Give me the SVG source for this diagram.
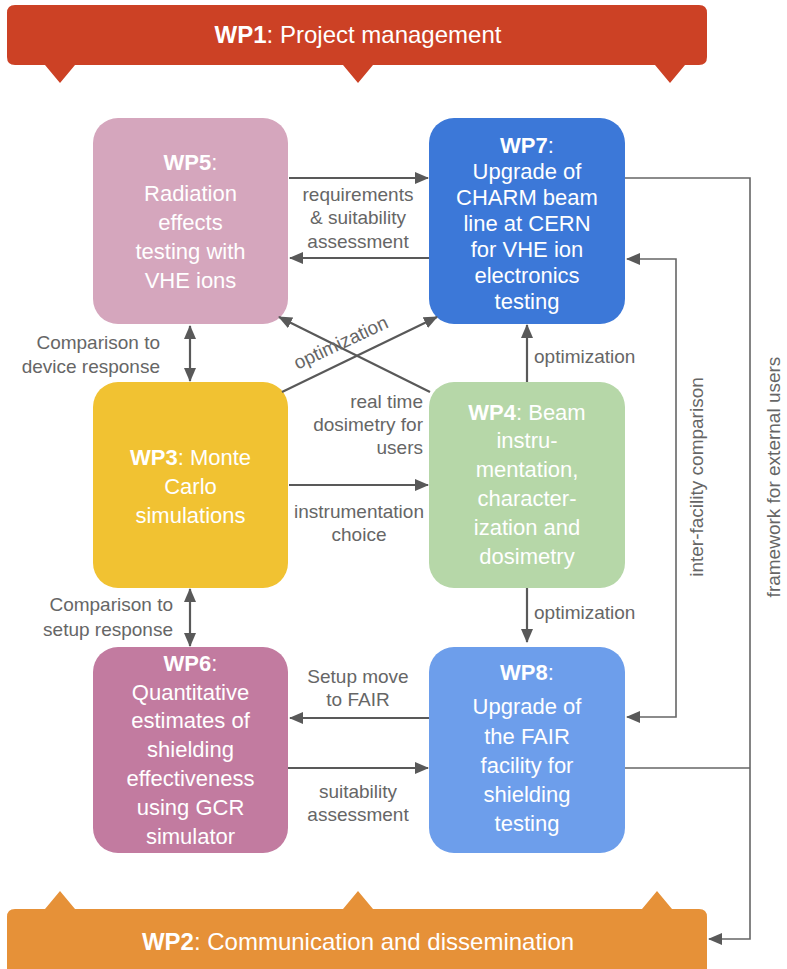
<svg xmlns="http://www.w3.org/2000/svg" width="787" height="969" viewBox="0 0 787 969">
<defs>
<style>
.nt{font-family:"Liberation Sans",Arial,sans-serif;font-size:22px;fill:#ffffff;text-anchor:middle}
.bt{font-family:"Liberation Sans",Arial,sans-serif;font-size:24px;fill:#ffffff;text-anchor:middle}
.b{font-weight:bold}
.lb{font-family:"Liberation Sans",Arial,sans-serif;font-size:19px;fill:#666666}
.rl{font-family:"Liberation Sans",Arial,sans-serif;font-size:19px;fill:#666666;text-anchor:middle}
.c{stroke:#595959;stroke-width:2.2;fill:none}
.t{stroke:#666666;stroke-width:1.6;fill:none}
</style>
<marker id="ah" markerUnits="userSpaceOnUse" markerWidth="14" markerHeight="12" refX="13" refY="6" orient="auto-start-reverse" viewBox="0 0 14 12">
<path d="M0,0 L14,6 L0,12 z" fill="#595959"/>
</marker>
</defs>
<rect width="787" height="969" fill="#ffffff"/>

<g id="WP1">
<path d="M15,5 H699 Q707,5 707,13 V57 Q707,65 699,65 H685 L670,83 L655,65 H373 L358,83 L343,65 H75 L60,83 L45,65 H15 Q7,65 7,57 V13 Q7,5 15,5 Z" fill="#cc4125"/>
<text class="bt" x="358" y="43"><tspan class="b">WP1</tspan>: Project management</text>
</g>

<g id="WP2">
<path d="M15,909 H45 L60,891 L75,909 H343 L358,891 L373,909 H642 L657,891 L672,909 H699 Q707,909 707,917 V969 H7 V917 Q7,909 15,909 Z" fill="#e69138"/>
<text class="bt" x="358" y="950"><tspan class="b">WP2</tspan>: Communication and dissemination</text>
</g>

<g id="WP5">
<rect x="93" y="118" width="195" height="206" rx="25" fill="#d5a6bd"/>
<text class="nt"><tspan x="190.5" y="170"><tspan class="b">WP5</tspan>:</tspan><tspan x="190.5" y="201">Radiation</tspan><tspan x="190.5" y="230">effects</tspan><tspan x="190.5" y="259">testing with</tspan><tspan x="190.5" y="288">VHE ions</tspan></text>
</g>

<g id="WP7">
<rect x="429" y="118" width="196" height="206" rx="25" fill="#3c78d8"/>
<text class="nt"><tspan x="527" y="153"><tspan class="b">WP7</tspan>:</tspan><tspan x="527" y="179">Upgrade of</tspan><tspan x="527" y="205">CHARM beam</tspan><tspan x="527" y="231">line at CERN</tspan><tspan x="527" y="257">for VHE ion</tspan><tspan x="527" y="283">electronics</tspan><tspan x="527" y="309">testing</tspan></text>
</g>

<g id="WP3">
<rect x="93" y="382" width="195" height="206" rx="25" fill="#f1c232"/>
<text class="nt"><tspan x="190.5" y="465"><tspan class="b">WP3</tspan>: Monte</tspan><tspan x="190.5" y="494">Carlo</tspan><tspan x="190.5" y="523">simulations</tspan></text>
</g>

<g id="WP4">
<rect x="429" y="382" width="196" height="206" rx="25" fill="#b6d7a8"/>
<text class="nt"><tspan x="527" y="420"><tspan class="b">WP4</tspan>: Beam</tspan><tspan x="527" y="448">instru-</tspan><tspan x="527" y="477">mentation,</tspan><tspan x="527" y="506">character-</tspan><tspan x="527" y="535">ization and</tspan><tspan x="527" y="564">dosimetry</tspan></text>
</g>

<g id="WP6">
<rect x="93" y="647" width="195" height="206" rx="25" fill="#c27ba0"/>
<text class="nt"><tspan x="190.5" y="671"><tspan class="b">WP6</tspan>:</tspan><tspan x="190.5" y="700">Quantitative</tspan><tspan x="190.5" y="728">estimates of</tspan><tspan x="190.5" y="757">shielding</tspan><tspan x="190.5" y="786">effectiveness</tspan><tspan x="190.5" y="815">using GCR</tspan><tspan x="190.5" y="844">simulator</tspan></text>
</g>

<g id="WP8">
<rect x="429" y="647" width="196" height="206" rx="25" fill="#6d9eeb"/>
<text class="nt"><tspan x="527" y="680"><tspan class="b">WP8</tspan>:</tspan><tspan x="527" y="714">Upgrade of</tspan><tspan x="527" y="744">the FAIR</tspan><tspan x="527" y="773">facility for</tspan><tspan x="527" y="802">shielding</tspan><tspan x="527" y="831">testing</tspan></text>
</g>

<g id="connectors">
<line class="c" x1="289" y1="178" x2="428" y2="178" marker-end="url(#ah)"/>
<line class="c" x1="429" y1="258" x2="290" y2="258" marker-end="url(#ah)"/>
<line class="c" x1="190" y1="326" x2="190" y2="381" marker-start="url(#ah)" marker-end="url(#ah)"/>
<line class="c" x1="190" y1="589" x2="190" y2="646" marker-start="url(#ah)" marker-end="url(#ah)"/>
<line class="c" x1="289" y1="485" x2="428" y2="485" marker-end="url(#ah)"/>
<line class="c" x1="282" y1="392" x2="437" y2="317" marker-end="url(#ah)"/>
<line class="c" x1="430" y1="392" x2="279" y2="317" marker-end="url(#ah)"/>
<line class="c" x1="527" y1="382" x2="527" y2="325" marker-end="url(#ah)"/>
<line class="c" x1="527" y1="588" x2="527" y2="642" marker-end="url(#ah)"/>
<line class="c" x1="429" y1="718" x2="290" y2="718" marker-end="url(#ah)"/>
<line class="c" x1="288" y1="768" x2="428" y2="768" marker-end="url(#ah)"/>
<path class="t" d="M625,178 H750 V939 H709" marker-end="url(#ah)"/>
<path class="t" d="M625,768 H750"/>
<path class="t" d="M627,259 H676 V717 H627" marker-start="url(#ah)" marker-end="url(#ah)"/>

<text class="lb" text-anchor="middle"><tspan x="358" y="201">requirements</tspan><tspan x="358" y="224">&amp; suitability</tspan><tspan x="358" y="248">assessment</tspan></text>
<text class="lb" text-anchor="end"><tspan x="160" y="349">Comparison to</tspan><tspan x="160" y="373">device response</tspan></text>
<text class="lb" text-anchor="middle" transform="translate(341,343) rotate(-25)" x="0" y="6">optimization</text>
<text class="lb" text-anchor="end"><tspan x="423" y="408">real time</tspan><tspan x="423" y="431">dosimetry for</tspan><tspan x="423" y="454">users</tspan></text>
<text class="lb" text-anchor="middle"><tspan x="359" y="518">instrumentation</tspan><tspan x="359" y="541">choice</tspan></text>
<text class="lb" x="534" y="363">optimization</text>
<text class="lb" text-anchor="end"><tspan x="173" y="611">Comparison to</tspan><tspan x="173" y="636">setup response</tspan></text>
<text class="lb" x="534" y="619">optimization</text>
<text class="lb" text-anchor="middle"><tspan x="358" y="683">Setup move</tspan><tspan x="358" y="706">to FAIR</tspan></text>
<text class="lb" text-anchor="middle"><tspan x="358" y="798">suitability</tspan><tspan x="358" y="821">assessment</tspan></text>
<text class="rl" transform="translate(697,477) rotate(-90)" x="0" y="6">inter-facility comparison</text>
<text class="rl" transform="translate(774,477) rotate(-90)" x="0" y="6">framework for external users</text>
</g>
</svg>
